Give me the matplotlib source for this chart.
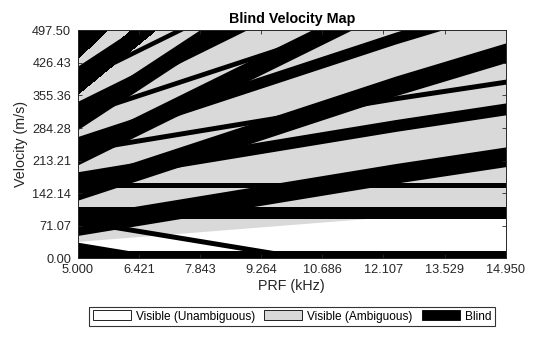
import numpy as np
import matplotlib
matplotlib.use("Agg")
import matplotlib.pyplot as plt
from matplotlib.patches import Patch

plt.rcParams['font.family'] = ['Liberation Sans', 'DejaVu Sans']

# PRF axis (kHz) and velocity limit (m/s)
prf_knots = [5.0, 12.4, 14.95]
vel_max = 497.5
xtick_labels = ['5.000', '6.421', '7.843', '9.264', '10.686', '12.107', '13.529', '14.950']
ytick_labels = ['0.00', '71.07', '142.14', '213.21', '284.28', '355.36', '426.43', '497.50']

# white/gray boundary (max unambiguous velocity) at the PRF knots
nyquist_vel = [37.0, 91.8, 110.5]

# blind bands: centre velocity read at each PRF knot, and half width
band_centres = [
    [-5.5, -5.5, -5.5], [71.5, 185.5, 221.5], [148.5, 376.5, 448.5],
    [225.5, 567.5, 675.5], [302.5, 758.5, 902.5], [379.5, 949.5, 1129.5],
    [456.5, 1140.5, 1356.5], [533.5, 1331.5, 1583.5],
    [22, -92, -128], [99, 99, 99], [176, 290, 326], [253, 481, 553],
    [330, 672, 780], [407, 863, 1007], [484, 1054, 1234],
    [4.5, -223.5, -295.5], [81.5, -32.5, -68.5], [158.5, 158.5, 158.5],
    [235.5, 349.5, 385.5], [312.5, 540.5, 612.5], [389.5, 731.5, 839.5],
    [466.5, 922.5, 1112.5],
]
band_hw = [21.5] * 8 + [13] * 7 + [5.5] * 7

gray = '#d9d9d9'
ink = '#262626'

fig = plt.figure(figsize=(5.6, 3.37), dpi=100)
ax = fig.add_axes([78/560, (337-258.3)/337, (505.7-78)/560, (258.3-30.3)/337])
ax.set_facecolor(gray)

ax.fill_between(prf_knots, 0, nyquist_vel, color='white', lw=0, antialiased=False)
for centre, hw in zip(band_centres, band_hw):
    c = np.array(centre)
    ax.fill_between(prf_knots, c - hw, c + hw, color='black', lw=0, antialiased=False)

ax.set_xlim(prf_knots[0], prf_knots[-1])
ax.set_ylim(0, vel_max)
ax.set_xticks(np.linspace(prf_knots[0], prf_knots[-1], len(xtick_labels)))
ax.set_xticklabels(xtick_labels)
ax.set_yticks(np.linspace(0, vel_max, len(ytick_labels)))
ax.set_yticklabels(ytick_labels)
ax.tick_params(direction='in', length=3, width=0.6, top=True, right=True,
               labelsize=9.2, colors=ink)
ax.tick_params(axis='x', pad=4)
ax.tick_params(axis='y', pad=5)
for sp in ax.spines.values():
    sp.set_linewidth(0.7)
    sp.set_color(ink)
    sp.set_zorder(5)

ax.set_xlabel('PRF (kHz)', fontsize=10.3, color=ink, labelpad=2)
ax.set_ylabel('Velocity (m/s)', fontsize=10.3, color=ink, labelpad=3)
ax.set_title('Blind Velocity Map', fontsize=10.3, fontweight='bold', pad=5)

handles = [Patch(facecolor='white', edgecolor='black', lw=0.6),
           Patch(facecolor=gray, edgecolor='black', lw=0.6),
           Patch(facecolor='black', edgecolor='black', lw=0.6)]
labels = ['Visible (Unambiguous)', 'Visible (Ambiguous)', 'Blind']
leg = fig.legend(handles, labels, loc='center', bbox_to_anchor=(292/560, 1 - 316.5/337),
                 ncol=3, frameon=True, fancybox=False, edgecolor='black', fontsize=8.6,
                 handlelength=3.2, handleheight=0.9, handletextpad=0.4,
                 columnspacing=0.75, borderpad=0.3, borderaxespad=0)
leg.get_frame().set_linewidth(0.8)

fig.savefig('out.png', dpi=100)
